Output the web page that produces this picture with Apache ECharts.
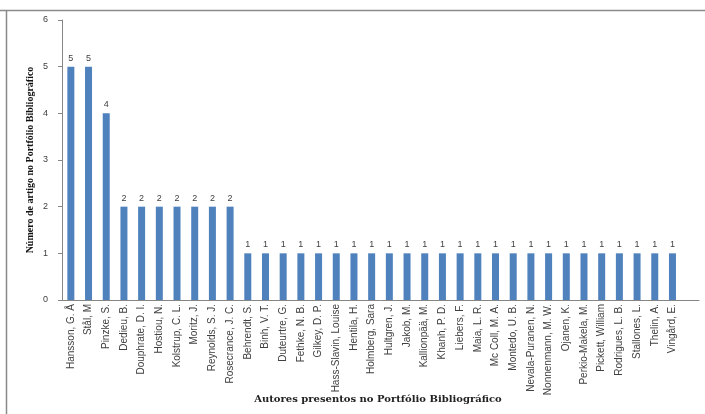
<!DOCTYPE html>
<html>
<head>
<meta charset="utf-8">
<script src="https://cdn.jsdelivr.net/npm/echarts@6/dist/echarts.min.js"></script>
<style>
  html, body { margin: 0; padding: 0; background: #fff; }
  #chart { width: 705px; height: 414px; }
</style>
</head>
<body>
<div id="chart"></div>
<script>
// Authors in the bibliographic portfolio and how many of its articles each one signs
const authors = [
  'Hansson, G. Å', 'Stål, M', 'Pinzke, S.', 'Dedieu, B.', 'Douphrate, D. I.',
  'Hostiou, N.', 'Kolstrup, C. L.', 'Moritz, J.', 'Reynolds, S. J.', 'Rosecrance, J. C.',
  'Behrendt, S.', 'Binh, V. T.', 'Duteurtre, G.', 'Fethke, N. B.', 'Gilkey, D. P.',
  'Hass-Slavin, Louise', 'Hentila, H.', 'Holmberg, Sara', 'Hultgren, J.', 'Jakob, M.',
  'Kallionpää, M.', 'Khanh, P. D.', 'Liebers, F.', 'Maia, L. R.', 'Mc Coll, M. A.',
  'Montedo, U. B.', 'Nevala-Puranen, N.', 'Nonnenmann, M. W.', 'Ojanen, K.', 'Perkio-Makela, M.',
  'Pickett, William', 'Rodrigues, L. B.', 'Stallones, L.', 'Thelin, A.', 'Vingård, E.', ''
];
const articles = [
  5, 5, 4, 2, 2,
  2, 2, 2, 2, 2,
  1, 1, 1, 1, 1,
  1, 1, 1, 1, 1,
  1, 1, 1, 1, 1,
  1, 1, 1, 1, 1,
  1, 1, 1, 1, 1, null
];
const yTicks = { min: 0, max: 6, interval: 1 };
const xTitle = 'Autores presentos no Portfólio Bibliográfico';
const yTitle = 'Número de artigo no Portfólio Bibliográfico';

const chart = echarts.init(document.getElementById('chart'), null, { renderer: 'canvas' });
chart.setOption({
  animation: false,
  backgroundColor: '#ffffff',
  grid: { left: 62, right: 6, top: 20, bottom: 114, containLabel: false },
  graphic: [
    { type: 'line', shape: { x1: 0, y1: 10.5, x2: 705, y2: 10.5 }, style: { stroke: '#8a8a8a', lineWidth: 1.5 } },
    { type: 'line', shape: { x1: 6.5, y1: 10, x2: 6.5, y2: 414 }, style: { stroke: '#8a8a8a', lineWidth: 1.5 } },
    {
      type: 'text', x: 378, y: 399,
      style: { text: xTitle, font: 'bold 10px "DejaVu Serif", serif', fill: '#222', align: 'center', verticalAlign: 'middle' }
    },
    {
      type: 'text', x: 30, y: 160, rotation: Math.PI / 2,
      style: { text: yTitle, font: 'bold 10px "Liberation Serif", serif', fill: '#111', align: 'center', verticalAlign: 'middle' }
    }
  ],
  xAxis: {
    type: 'category',
    data: authors,
    axisLine: { lineStyle: { color: '#868686', width: 1 } },
    axisTick: { show: false },
    axisLabel: {
      interval: 0,
      rotate: 90,
      margin: 4,
      color: '#404040',
      fontSize: 10,
      fontFamily: '"Liberation Sans Narrow", "Arial Narrow", sans-serif'
    }
  },
  yAxis: {
    type: 'value',
    min: yTicks.min,
    max: yTicks.max,
    interval: yTicks.interval,
    splitLine: { show: false },
    axisLine: { show: true, lineStyle: { color: '#868686', width: 1 } },
    axisTick: { show: true, length: 4, lineStyle: { color: '#868686' } },
    axisLabel: { color: '#404040', fontSize: 9, margin: 14, fontFamily: 'Liberation Sans, sans-serif' }
  },
  series: [{
    type: 'bar',
    data: articles,
    barWidth: 7,
    itemStyle: { color: '#4f81bd' },
    label: {
      show: true,
      position: 'top',
      distance: 4,
      color: '#404040',
      fontSize: 9,
      fontFamily: 'Liberation Sans, sans-serif'
    }
  }]
});
</script>
</body>
</html>
